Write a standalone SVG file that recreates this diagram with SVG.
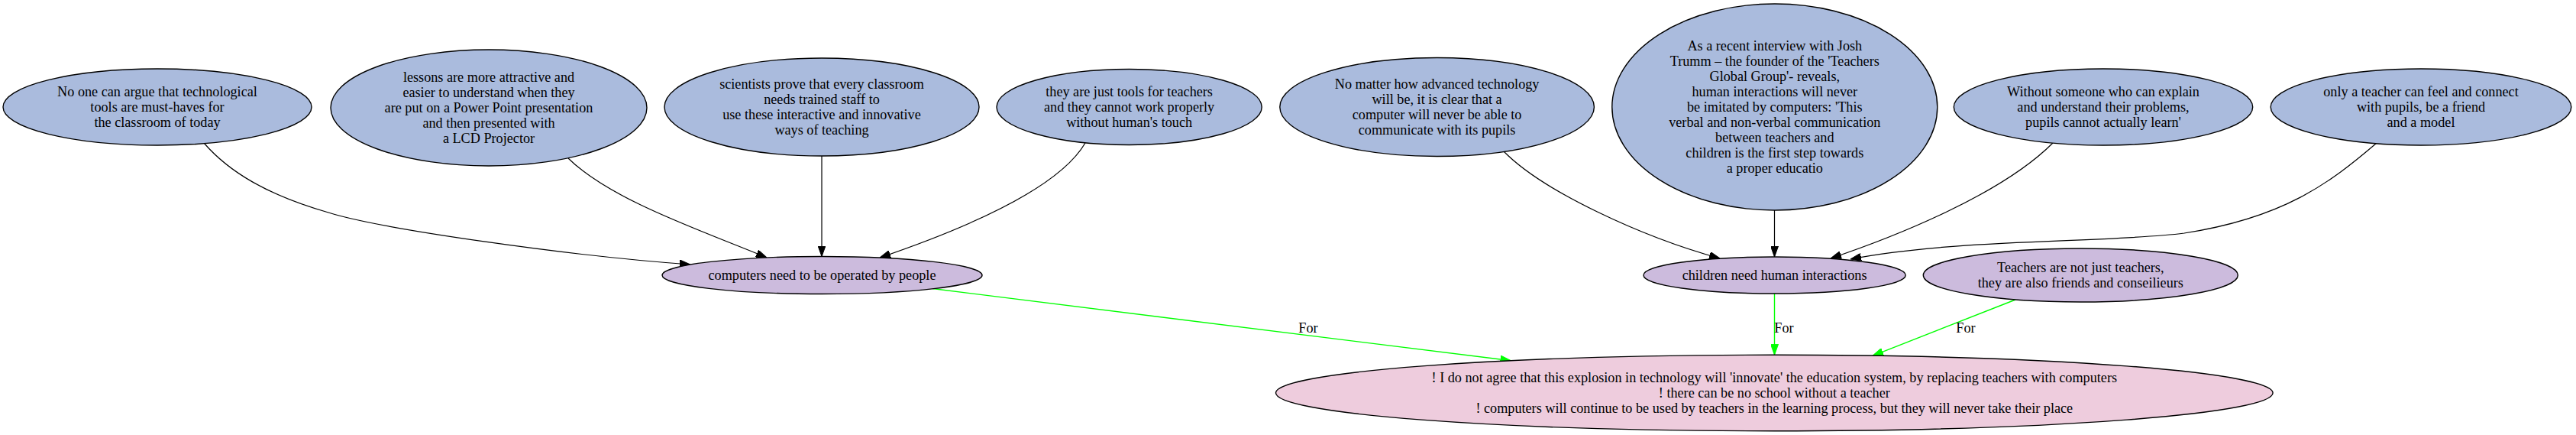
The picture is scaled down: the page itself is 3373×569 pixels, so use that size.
<svg xmlns="http://www.w3.org/2000/svg" width="3373" height="569" viewBox="0 0 3373 569">
<style>
  text { font-family: "Liberation Serif", "Times New Roman", serif; font-size: 18.2px; fill: #000; text-anchor: middle; }
  .top { fill: #aabbdd; stroke: #000; stroke-width: 1.4; }
  .mid { fill: #ccbbdd; stroke: #000; stroke-width: 1.4; }
  .bot { fill: #eeccdd; stroke: #000; stroke-width: 1.4; }
  .e { fill: none; stroke: #000; stroke-width: 1.2; marker-end: url(#ab); }
  .g { fill: none; stroke: #00ff00; stroke-width: 1.4; marker-end: url(#ag); }
</style>
<defs>
  <marker id="ab" viewBox="0 0 14 10" refX="14" refY="5" markerWidth="14" markerHeight="10" markerUnits="userSpaceOnUse" orient="auto">
    <path d="M0,0 L14,5 L0,10 z" fill="#000" stroke="#000" stroke-width="1"/>
  </marker>
  <marker id="ag" viewBox="0 0 14 10" refX="14" refY="5" markerWidth="14" markerHeight="10" markerUnits="userSpaceOnUse" orient="auto">
    <path d="M0,0 L14,5 L0,10 z" fill="#00ff00" stroke="#00ff00" stroke-width="1"/>
  </marker>
</defs>
<rect x="0" y="0" width="3373" height="569" fill="#fff"/>

<g id="connectors">
  <path class="e" d="M267,187 C300,225 350,255 430,278 C500,300 750,335 904,346"/>
  <path class="e" d="M744,207 C800,262 920,302 1004,337"/>
  <path class="e" d="M1076,204 L1076,335.5"/>
  <path class="e" d="M1421,187 C1390,240 1290,290 1152,337"/>
  <path class="e" d="M1969,198 C2020,250 2150,310 2252,338"/>
  <path class="e" d="M2323.5,275 L2323.5,336"/>
  <path class="e" d="M2688,187 C2620,255 2480,310 2397,338"/>
  <path class="e" d="M3112,187 C3050,240 2990,285 2860,305 C2760,318 2560,312 2423,339"/>
  <path class="g" d="M1221,377.5 L1978.5,471.8"/>
  <path class="g" d="M2323.5,384 L2323.5,464.3"/>
  <path class="g" d="M2639,392 L2452,465.3"/>
  <text x="1713" y="435">For</text>
  <text x="2336" y="435">For</text>
  <text x="2574" y="435">For</text>
</g>

<g id="n1">
  <ellipse class="top" cx="206" cy="140" rx="202" ry="50"/>
  <text x="206" y="125.5">No one can argue that technological</text>
  <text x="206" y="145.5">tools are must-haves for</text>
  <text x="206" y="165.5">the classroom of today</text>
</g>
<g id="n2">
  <ellipse class="top" cx="640" cy="141" rx="207" ry="76"/>
  <text x="640" y="106.5">lessons are more attractive and</text>
  <text x="640" y="126.5">easier to understand when they</text>
  <text x="640" y="146.5">are put on a Power Point presentation</text>
  <text x="640" y="166.5">and then presented with</text>
  <text x="640" y="186.5">a LCD Projector</text>
</g>
<g id="n3">
  <ellipse class="top" cx="1076" cy="140" rx="206" ry="64"/>
  <text x="1076" y="115.5">scientists prove that every classroom</text>
  <text x="1076" y="135.5">needs trained staff to</text>
  <text x="1076" y="155.5">use these interactive and innovative</text>
  <text x="1076" y="175.5">ways of teaching</text>
</g>
<g id="n4">
  <ellipse class="top" cx="1478.6" cy="140" rx="173.6" ry="49.5"/>
  <text x="1478.6" y="125.5">they are just tools for teachers</text>
  <text x="1478.6" y="145.5">and they cannot work properly</text>
  <text x="1478.6" y="165.5">without human's touch</text>
</g>
<g id="n5">
  <ellipse class="top" cx="1881.6" cy="140" rx="205.8" ry="64.5"/>
  <text x="1881.6" y="115.5">No matter how advanced technology</text>
  <text x="1881.6" y="135.5">will be, it is clear that a</text>
  <text x="1881.6" y="155.5">computer will never be able to</text>
  <text x="1881.6" y="175.5">communicate with its pupils</text>
</g>
<g id="n6">
  <ellipse class="top" cx="2323.8" cy="140" rx="213" ry="135"/>
  <text x="2323.8" y="65.5">As a recent interview with Josh</text>
  <text x="2323.8" y="85.5">Trumm – the founder of the 'Teachers</text>
  <text x="2323.8" y="105.5">Global Group'- reveals,</text>
  <text x="2323.8" y="125.5">human interactions will never</text>
  <text x="2323.8" y="145.5">be imitated by computers: 'This</text>
  <text x="2323.8" y="165.5">verbal and non-verbal communication</text>
  <text x="2323.8" y="185.5">between teachers and</text>
  <text x="2323.8" y="205.5">children is the first step towards</text>
  <text x="2323.8" y="225.5">a proper educatio</text>
</g>
<g id="n7">
  <ellipse class="top" cx="2754" cy="140" rx="195.7" ry="50"/>
  <text x="2754" y="125.5">Without someone who can explain</text>
  <text x="2754" y="145.5">and understand their problems,</text>
  <text x="2754" y="165.5">pupils cannot actually learn'</text>
</g>
<g id="n8">
  <ellipse class="top" cx="3170" cy="140" rx="196.8" ry="50"/>
  <text x="3170" y="125.5">only a teacher can feel and connect</text>
  <text x="3170" y="145.5">with pupils, be a friend</text>
  <text x="3170" y="165.5">and a model</text>
</g>
<g id="n9">
  <ellipse class="mid" cx="1076.5" cy="360" rx="209.5" ry="24.5"/>
  <text x="1076.5" y="365.5">computers need to be operated by people</text>
</g>
<g id="n10">
  <ellipse class="mid" cx="2323.6" cy="360" rx="171.6" ry="24"/>
  <text x="2323.6" y="365.5">children need human interactions</text>
</g>
<g id="n11">
  <ellipse class="mid" cx="2724.3" cy="360" rx="206" ry="35"/>
  <text x="2724.3" y="355.5">Teachers are not just teachers,</text>
  <text x="2724.3" y="375.5">they are also friends and conseilieurs</text>
</g>
<g id="n12">
  <ellipse class="bot" cx="2323.3" cy="514" rx="652.8" ry="49.7"/>
  <text x="2323.3" y="499.5">! I do not agree that this explosion in technology will 'innovate' the education system, by replacing teachers with computers</text>
  <text x="2323.3" y="519.5">! there can be no school without a teacher</text>
  <text x="2323.3" y="539.5">! computers will continue to be used by teachers in the learning process, but they will never take their place</text>
</g>
</svg>
